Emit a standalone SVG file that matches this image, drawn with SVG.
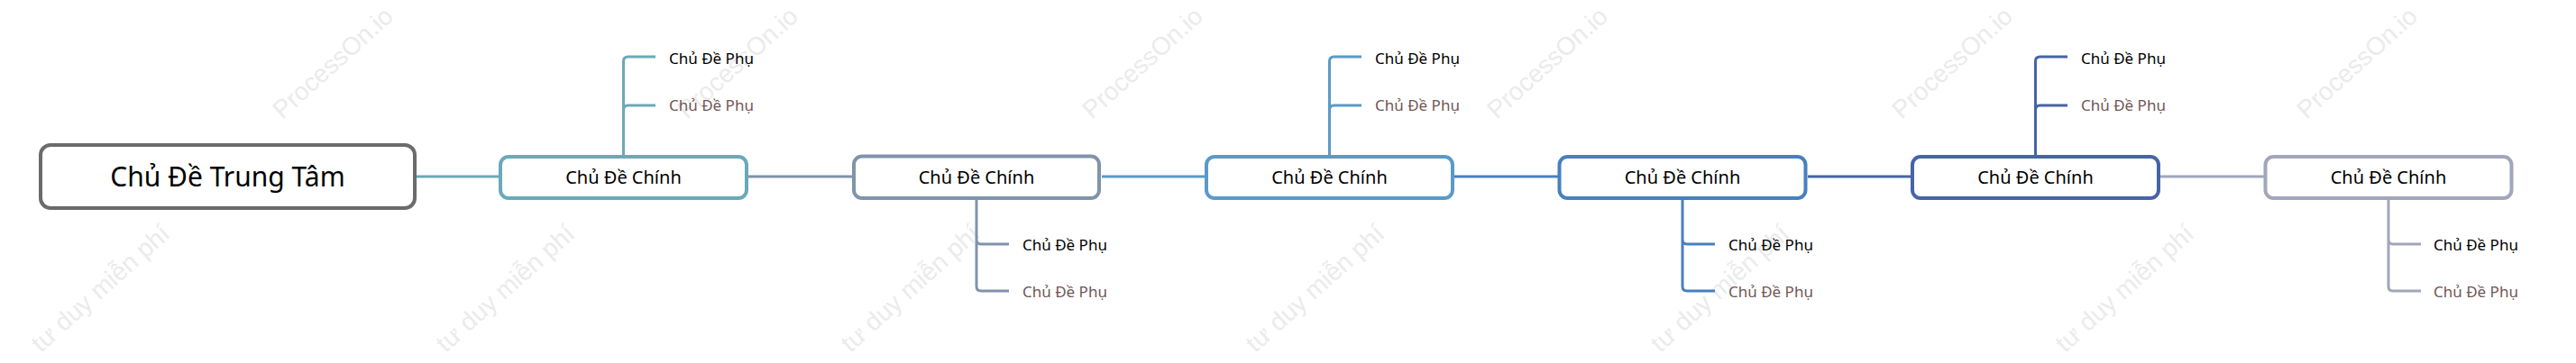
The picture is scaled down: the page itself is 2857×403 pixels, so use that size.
<svg xmlns="http://www.w3.org/2000/svg" width="2857" height="403" viewBox="0 0 2857 403">
<style>
text{font-family:"Noto Sans","Liberation Sans",sans-serif;}
.wm{font-family:"Liberation Sans","Noto Sans",sans-serif;font-size:28px;fill:#ebebeb;}
.box{fill:#ffffff;stroke-width:4;}
.center{font-size:30px;fill:#000;text-anchor:middle;}
.main{font-size:20px;fill:#000;text-anchor:middle;}
.sub{font-size:17px;fill:#000;}
.sub2{font-size:17px;fill:#735655;}
.ln{fill:none;stroke-width:3;}
.c1{stroke:#69aab6}.c2{stroke:#8093ab}.c3{stroke:#5a9ac8}.c4{stroke:#4680bf}.c5{stroke:#4664a6}.c6{stroke:#a2a6ba}
</style>
<rect width="2857" height="403" fill="#ffffff"/>
<g id="watermarks">
<text class="wm" transform="translate(313,133) rotate(-42)">ProcessOn.io</text>
<text class="wm" transform="translate(762,133) rotate(-42)">ProcessOn.io</text>
<text class="wm" transform="translate(1211,133) rotate(-42)">ProcessOn.io</text>
<text class="wm" transform="translate(1660,133) rotate(-42)">ProcessOn.io</text>
<text class="wm" transform="translate(2109,133) rotate(-42)">ProcessOn.io</text>
<text class="wm" transform="translate(2558,133) rotate(-42)">ProcessOn.io</text>
<text class="wm" text-anchor="end" transform="translate(190,262) rotate(-42)">tư duy miễn phí</text>
<text class="wm" text-anchor="end" transform="translate(639,262) rotate(-42)">tư duy miễn phí</text>
<text class="wm" text-anchor="end" transform="translate(1088,262) rotate(-42)">tư duy miễn phí</text>
<text class="wm" text-anchor="end" transform="translate(1537,262) rotate(-42)">tư duy miễn phí</text>
<text class="wm" text-anchor="end" transform="translate(1986,262) rotate(-42)">tư duy miễn phí</text>
<text class="wm" text-anchor="end" transform="translate(2435,262) rotate(-42)">tư duy miễn phí</text>
</g>
<g id="connectors">
<path class="ln c1" d="M462,196H553"/>
<path class="ln c2" d="M830,196H945"/>
<path class="ln c3" d="M1222,196H1336"/>
<path class="ln c4" d="M1613,196H1728"/>
<path class="ln c5" d="M2005,196H2119"/>
<path class="ln c6" d="M2396,196H2511"/>
<path class="ln c1" d="M691.5,172V68Q691.5,63 696.5,63H727M691.5,122Q691.5,117 696.5,117H727"/>
<path class="ln c2" d="M1083,222V318Q1083,323 1088,323H1119M1083,266Q1083,271 1088,271H1119"/>
<path class="ln c3" d="M1474.5,172V68Q1474.5,63 1479.5,63H1510M1474.5,122Q1474.5,117 1479.5,117H1510"/>
<path class="ln c4" d="M1866,222V318Q1866,323 1871,323H1902M1866,266Q1866,271 1871,271H1902"/>
<path class="ln c5" d="M2257.5,172V68Q2257.5,63 2262.5,63H2293M2257.5,122Q2257.5,117 2262.5,117H2293"/>
<path class="ln c6" d="M2649,222V318Q2649,323 2654,323H2685M2649,266Q2649,271 2654,271H2685"/>
</g>
<g id="central">
<rect class="box" x="45" y="161" width="415" height="70" rx="11" stroke="#6b6b6b"/>
<text class="center" x="252.5" y="207">Chủ Đề Trung Tâm</text>
</g>
<g id="main1">
<rect class="box c1" x="555" y="174" width="273" height="46" rx="9"/>
<text class="main" x="691.5" y="204">Chủ Đề Chính</text>
</g>
<g id="sub1a"><text class="sub" x="742" y="71">Chủ Đề Phụ</text></g>
<g id="sub1b"><text class="sub2" x="742" y="123">Chủ Đề Phụ</text></g>
<g id="main2">
<rect class="box c2" x="947" y="173.5" width="272" height="46.5" rx="9" stroke-width="5"/>
<text class="main" x="1083" y="204">Chủ Đề Chính</text>
</g>
<g id="sub2a"><text class="sub" x="1134" y="278">Chủ Đề Phụ</text></g>
<g id="sub2b"><text class="sub2" x="1134" y="330">Chủ Đề Phụ</text></g>
<g id="main3">
<rect class="box c3" x="1338" y="174" width="273" height="46" rx="9"/>
<text class="main" x="1474.5" y="204">Chủ Đề Chính</text>
</g>
<g id="sub3a"><text class="sub" x="1525" y="71">Chủ Đề Phụ</text></g>
<g id="sub3b"><text class="sub2" x="1525" y="123">Chủ Đề Phụ</text></g>
<g id="main4">
<rect class="box c4" x="1729.5" y="174" width="273" height="46" rx="9"/>
<text class="main" x="1866" y="204">Chủ Đề Chính</text>
</g>
<g id="sub4a"><text class="sub" x="1917" y="278">Chủ Đề Phụ</text></g>
<g id="sub4b"><text class="sub2" x="1917" y="330">Chủ Đề Phụ</text></g>
<g id="main5">
<rect class="box c5" x="2121" y="174" width="273" height="46" rx="9"/>
<text class="main" x="2257.5" y="204">Chủ Đề Chính</text>
</g>
<g id="sub5a"><text class="sub" x="2308" y="71">Chủ Đề Phụ</text></g>
<g id="sub5b"><text class="sub2" x="2308" y="123">Chủ Đề Phụ</text></g>
<g id="main6">
<rect class="box c6" x="2512.5" y="174" width="273" height="46" rx="9"/>
<text class="main" x="2649" y="204">Chủ Đề Chính</text>
</g>
<g id="sub6a"><text class="sub" x="2699" y="278">Chủ Đề Phụ</text></g>
<g id="sub6b"><text class="sub2" x="2699" y="330">Chủ Đề Phụ</text></g>
</svg>
